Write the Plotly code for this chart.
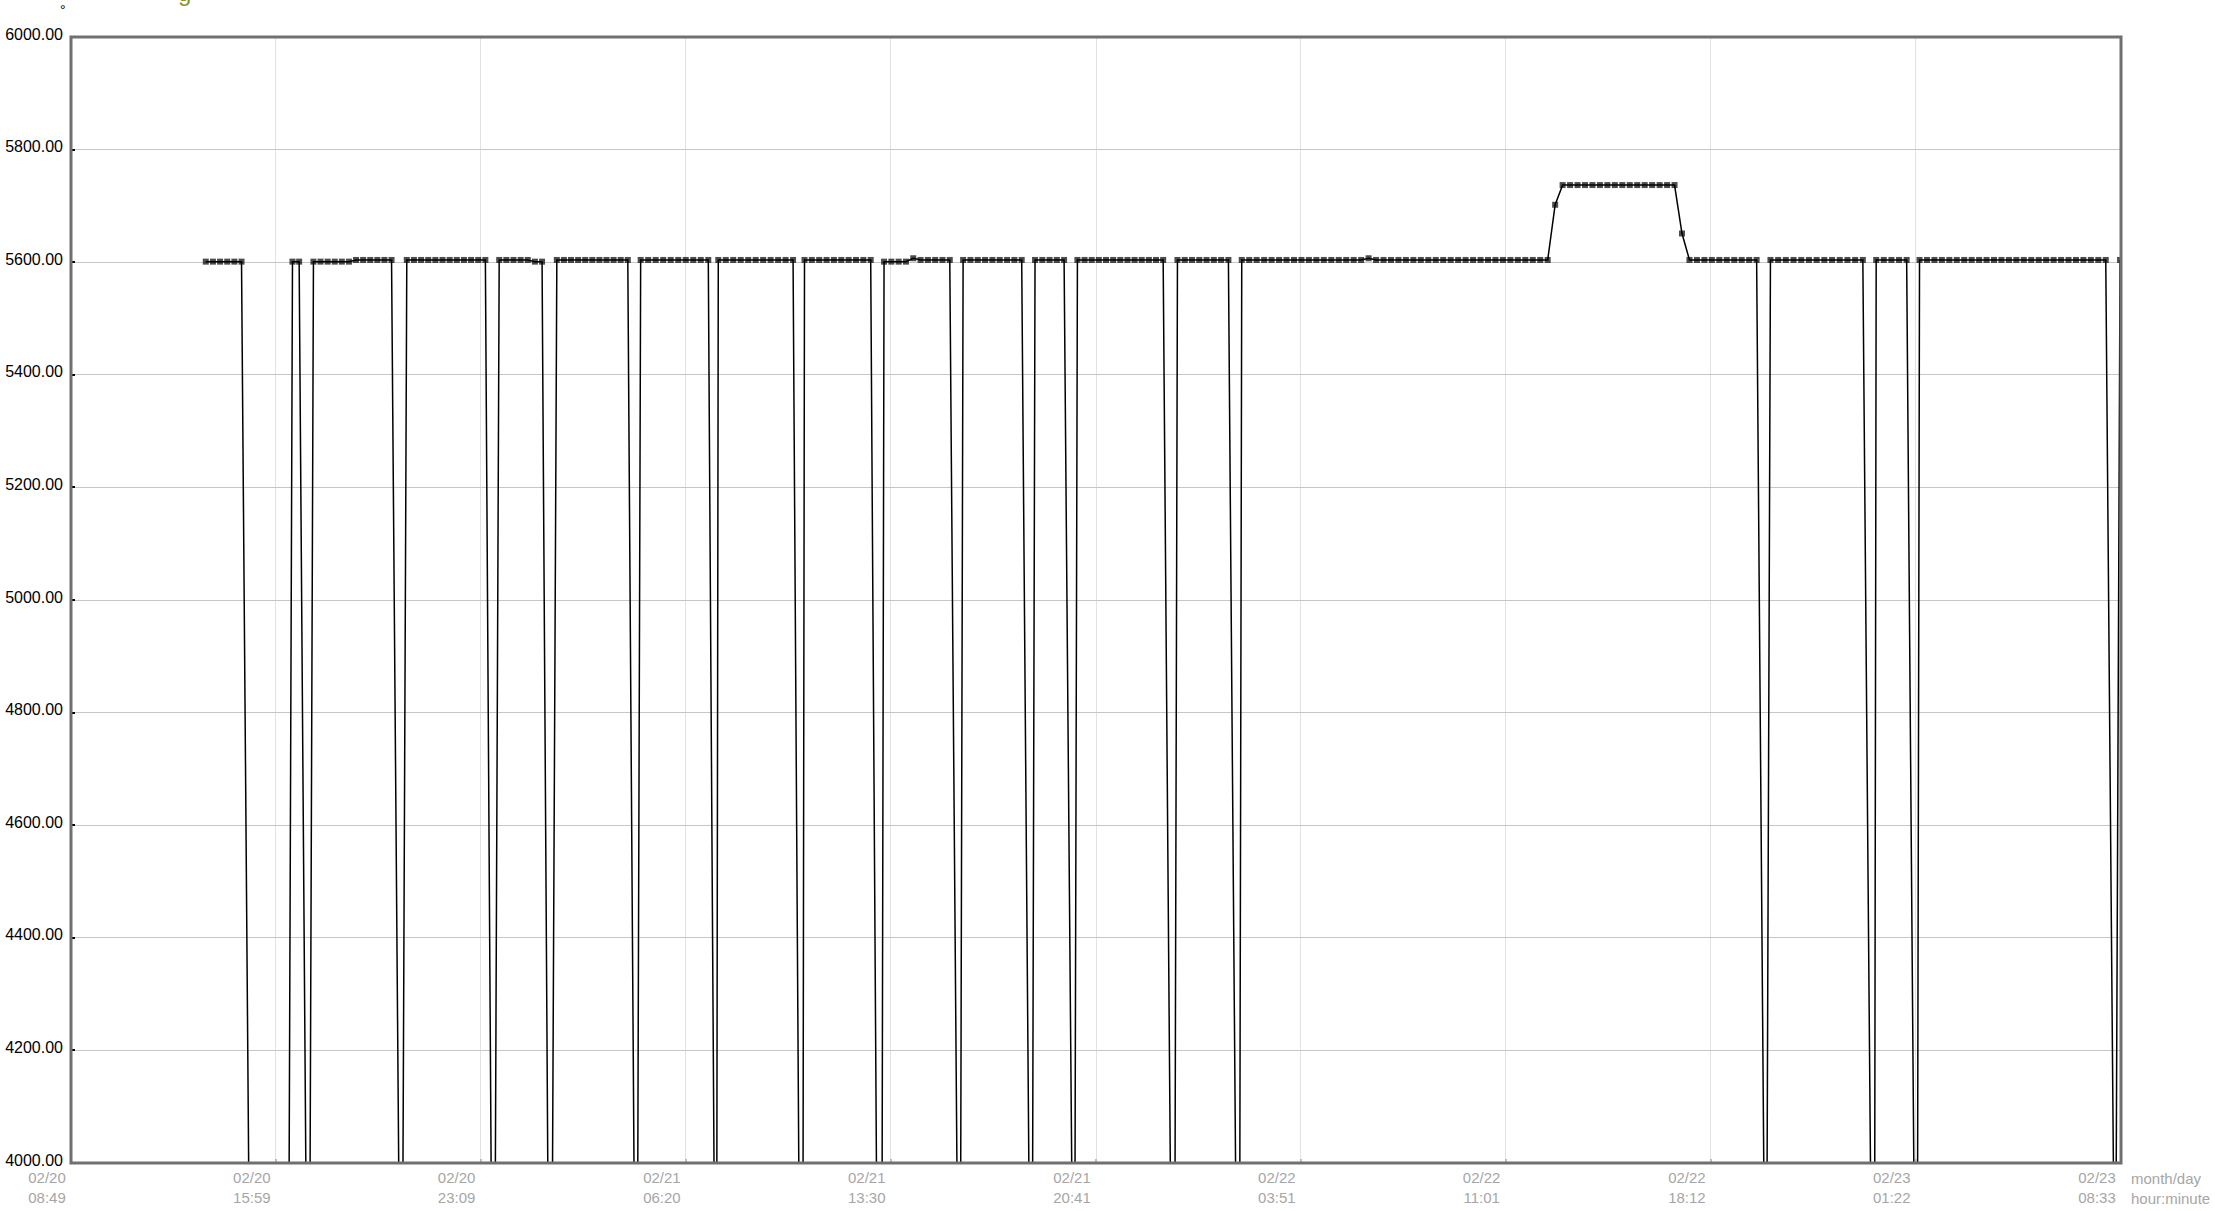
import plotly.graph_objects as go
import pandas as pd

YEAR = "2013-"

# ---- data -----------------------------------------------------------------
# Each run of good readings: first time, last time, readings (evenly spaced between)
seg_start = ["02-20 13:32", "02-20 16:34", "02-20 17:18", "02-20 20:34", "02-20 23:48",
             "02-21 01:49", "02-21 04:45", "02-21 07:28", "02-21 10:29", "02-21 13:16",
             "02-21 16:02", "02-21 18:33", "02-21 20:02", "02-21 23:32", "02-22 01:47",
             "02-22 20:17", "02-22 23:59", "02-23 01:30", "02-23 08:31"]
seg_end = ["02-20 14:47", "02-20 16:48", "02-20 20:02", "02-20 23:19", "02-21 01:18",
           "02-21 04:18", "02-21 07:07", "02-21 10:05", "02-21 12:48", "02-21 15:34",
           "02-21 18:05", "02-21 19:34", "02-21 23:02", "02-22 01:19", "02-22 19:48",
           "02-22 23:31", "02-23 01:03", "02-23 08:01", "02-23 08:31"]
seg_values = [
    [5601, 5601, 5601, 5601, 5601, 5601],
    [5601, 5601],
    [5601, 5601, 5601, 5601, 5601, 5601, 5604, 5604, 5604, 5604, 5604, 5604],
    [5604, 5604, 5604, 5604, 5604, 5604, 5604, 5604, 5604, 5604, 5604, 5604],
    [5604, 5604, 5604, 5604, 5604, 5601, 5601],
    [5604, 5604, 5604, 5604, 5604, 5604, 5604, 5604, 5604, 5604, 5604],
    [5604, 5604, 5604, 5604, 5604, 5604, 5604, 5604, 5604, 5604],
    [5604, 5604, 5604, 5604, 5604, 5604, 5604, 5604, 5604, 5604, 5604],
    [5604, 5604, 5604, 5604, 5604, 5604, 5604, 5604, 5604, 5604],
    [5601, 5601, 5601, 5601, 5607, 5604, 5604, 5604, 5604, 5604],
    [5604, 5604, 5604, 5604, 5604, 5604, 5604, 5604, 5604],
    [5604, 5604, 5604, 5604, 5604],
    [5604, 5604, 5604, 5604, 5604, 5604, 5604, 5604, 5604, 5604, 5604, 5604, 5604],
    [5604, 5604, 5604, 5604, 5604, 5604, 5604, 5604],
    [5604, 5604, 5604, 5604, 5604, 5604, 5604, 5604, 5604, 5604,
     5604, 5604, 5604, 5604, 5604, 5604, 5604, 5607, 5604, 5604,
     5604, 5604, 5604, 5604, 5604, 5604, 5604, 5604, 5604, 5604,
     5604, 5604, 5604, 5604, 5604, 5604, 5604, 5604, 5604, 5604,
     5604, 5604, 5702, 5737, 5737, 5737, 5737, 5737, 5737, 5737,
     5737, 5737, 5737, 5737, 5737, 5737, 5737, 5737, 5737, 5651,
     5604, 5604, 5604, 5604, 5604, 5604, 5604, 5604, 5604, 5604],
    [5604, 5604, 5604, 5604, 5604, 5604, 5604, 5604, 5604, 5604, 5604, 5604, 5604],
    [5604, 5604, 5604, 5604, 5604],
    [5604, 5604, 5604, 5604, 5604, 5604, 5604, 5604, 5604, 5604,
     5604, 5604, 5604, 5604, 5604, 5604, 5604, 5604, 5604, 5604,
     5604, 5604, 5604, 5604, 5604, 5604],
    [5604],
]
# Outages between runs: first and last reading at the floor of the axis
drop_down = ["02-20 15:02", "02-20 17:02", "02-20 20:17", "02-20 23:31", "02-21 01:30",
             "02-21 04:31", "02-21 07:19", "02-21 10:17", "02-21 13:00", "02-21 15:49",
             "02-21 18:20", "02-21 19:50", "02-21 23:17", "02-22 01:34", "02-22 20:03",
             "02-22 23:47", "02-23 01:18", "02-23 08:17"]
drop_up = ["02-20 16:27", "02-20 17:11", "02-20 20:26", "02-20 23:40", "02-21 01:40",
           "02-21 04:39", "02-21 07:25", "02-21 10:26", "02-21 13:12", "02-21 15:57",
           "02-21 18:28", "02-21 19:57", "02-21 23:27", "02-22 01:43", "02-22 20:10",
           "02-22 23:56", "02-23 01:26", "02-23 08:23"]
floor_value = 4000

tick_times = ["02-20 08:49", "02-20 15:59", "02-20 23:09", "02-21 06:20", "02-21 13:30",
              "02-21 20:41", "02-22 03:51", "02-22 11:01", "02-22 18:12", "02-23 01:22",
              "02-23 08:33"]
tick_days = ["02/20", "02/20", "02/20", "02/21", "02/21", "02/21", "02/22", "02/22",
             "02/22", "02/23", "02/23"]
tick_hours = ["08:49", "15:59", "23:09", "06:20", "13:30", "20:41", "03:51", "11:01",
              "18:12", "01:22", "08:33"]
y_ticks = [4000, 4200, 4400, 4600, 4800, 5000, 5200, 5400, 5600, 5800, 6000]
unit_labels = ["month/day", "hour:minute"]
# ---------------------------------------------------------------------------


def ts(s):
    return pd.Timestamp(YEAR + s)


xs, ys = [], []
for i, (s, e, vals) in enumerate(zip(seg_start, seg_end, seg_values)):
    t0, t1 = ts(s), ts(e)
    n = len(vals)
    for k, v in enumerate(vals):
        t = t0 + (t1 - t0) * (k / (n - 1)) if n > 1 else t0
        xs.append(t)
        ys.append(v)
    if i < len(drop_down):
        xs += [ts(drop_down[i]), ts(drop_up[i])]
        ys += [floor_value, floor_value]

sizes = [6 if v > floor_value else 0 for v in ys]

FONT = "Liberation Sans, Arial, sans-serif"

fig = go.Figure()
fig.add_trace(go.Scatter(
    x=xs, y=ys, mode="lines+markers",
    line=dict(color="black", width=1.5),
    marker=dict(symbol="square", size=sizes, color="black", line=dict(width=0)),
    hoverinfo="x+y",
))

fig.update_layout(
    width=2215, height=1211,
    margin=dict(l=71, r=94, t=37, b=48),
    paper_bgcolor="white", plot_bgcolor="white",
    showlegend=False,
    xaxis=dict(
        type="date", automargin=False,
        range=[ts(tick_times[0]), ts(tick_times[-1])],
        tickvals=[ts(t) for t in tick_times],
        ticktext=[d + "<br>" + h for d, h in zip(tick_days, tick_hours)],
        showgrid=True, gridcolor="#e2e2e2", gridwidth=1,
        ticks="inside", ticklen=4, tickwidth=2, tickcolor="#bdbdbd",
        tickfont=dict(family=FONT, size=15, color="#a6a6a6"),
        ticklabelshift=-24, ticklabelstandoff=4,
        zeroline=False, showline=False,
    ),
    yaxis=dict(
        range=[4000, 6000], automargin=False,
        tickvals=y_ticks, tickformat=".2f",
        showgrid=True, gridcolor="#c6c6c6", gridwidth=1,
        ticks="inside", ticklen=4, tickwidth=2, tickcolor="black",
        tickfont=dict(family=FONT, size=16, color="black"),
        ticklabelshift=-3, ticklabelstandoff=7,
        zeroline=False, showline=False,
    ),
)

# plot frame
fig.add_shape(type="rect", xref="paper", yref="paper", x0=0, x1=1, y0=0, y1=1,
              line=dict(color="#707070", width=3), layer="above")

# unit labels to the right of the last tick label
fig.add_annotation(xref="paper", yref="paper", x=1, y=0, xanchor="left", yanchor="top",
                   xshift=8, yshift=-5, showarrow=False, align="left",
                   text="<br>".join(unit_labels),
                   font=dict(family=FONT, size=15, color="#a6a6a6"))

# small marks at the very top of the page (title cut off above)
fig.add_annotation(xref="paper", yref="paper", x=(63 - 71) / 2050, y=1 + (37 - 10) / 1126,
                   xanchor="center", yanchor="middle", showarrow=False, text="°",
                   font=dict(family=FONT, size=14, color="black"))
fig.add_annotation(xref="paper", yref="paper", x=(184 - 71) / 2050, y=1 + (37 - 8) / 1126,
                   xanchor="center", yanchor="bottom", showarrow=False, text="g",
                   font=dict(family=FONT, size=24, color="#8f8f2f"))

fig.write_html("out.html", config={"displayModeBar": False},
               post_script="document.body.style.margin='0';")
